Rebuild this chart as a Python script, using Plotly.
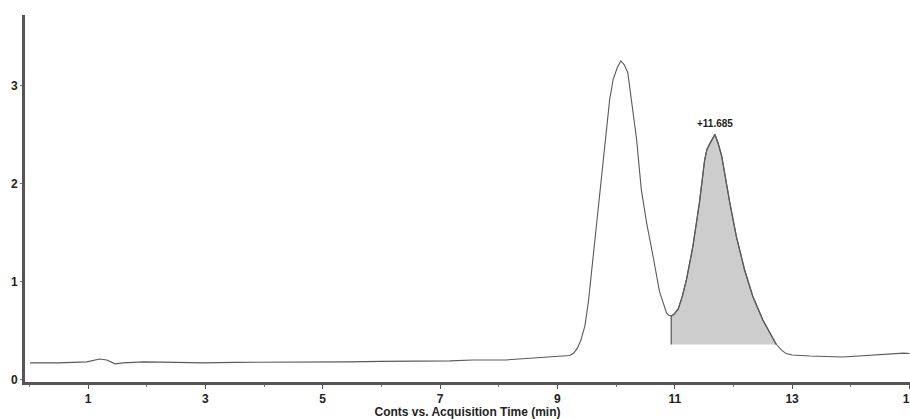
import plotly.graph_objects as go

# Chromatogram trace
time_min = [0.01, 0.5, 0.98, 1.1, 1.2, 1.32, 1.46, 1.6, 1.94, 2.5, 2.96, 3.5, 4.0, 4.61,
            5.45, 6.0, 6.5, 7.17, 7.56, 8.13, 8.59, 9.04, 9.21, 9.28, 9.34, 9.40, 9.47,
            9.53, 9.58, 9.67, 9.75, 9.84, 9.89, 9.95, 10.02, 10.08, 10.14, 10.20, 10.26,
            10.35, 10.43, 10.52, 10.63, 10.74, 10.86, 10.90, 10.94, 10.98, 11.06, 11.13,
            11.20, 11.31, 11.42, 11.51, 11.55, 11.60, 11.64, 11.685, 11.74, 11.80,
            11.94, 12.05, 12.19, 12.33, 12.50, 12.62, 12.73, 12.82, 12.90, 13.0, 13.30,
            13.87, 14.44, 14.9, 15.0]
counts = [0.17, 0.17, 0.18, 0.20, 0.21, 0.20, 0.16, 0.17, 0.18, 0.175, 0.17, 0.175, 0.175, 0.18,
          0.18, 0.185, 0.185, 0.19, 0.20, 0.20, 0.22, 0.235, 0.245, 0.27, 0.32, 0.40, 0.55,
          0.80, 1.09, 1.60, 2.11, 2.62, 2.85, 3.06, 3.18, 3.25, 3.21, 3.13, 2.85,
          2.45, 1.94, 1.60, 1.26, 0.90, 0.68, 0.655, 0.65, 0.66, 0.72, 0.85,
          1.02, 1.36, 1.80, 2.24, 2.35, 2.41, 2.46, 2.50, 2.41, 2.28,
          1.80, 1.46, 1.12, 0.85, 0.61, 0.48, 0.36, 0.30, 0.265, 0.25, 0.24,
          0.23, 0.255, 0.27, 0.265]

# Integrated peak region
integ_start = 10.94
integ_end = 12.73
integ_base = 0.357
peak_label = "+11.685"
peak_time = 11.685
peak_height = 2.50

x_ticks = [1, 3, 5, 7, 9, 11, 13, 15]
y_ticks = [0, 1, 2, 3]

fx = [integ_start] + [t for t in time_min if integ_start <= t <= integ_end] + [integ_end]
fy = [integ_base] + [c for t, c in zip(time_min, counts) if integ_start <= t <= integ_end] + [integ_base]

fig = go.Figure()
fig.add_trace(go.Scatter(x=fx, y=fy, mode="lines", fill="toself", fillcolor="#cdcdcd",
                         line=dict(color="#555555", width=1.2), hoverinfo="skip"))
fig.add_trace(go.Scatter(x=time_min, y=counts, mode="lines",
                         line=dict(color="#5a5a5a", width=1.1)))

fig.add_annotation(x=peak_time, y=peak_height + 0.03, text=peak_label, showarrow=False,
                   yanchor="bottom", font=dict(family="Liberation Sans", size=10, color="#222", weight="bold"))

font = dict(family="Liberation Sans", size=12, color="#222", weight="bold")
fig.update_layout(
    width=910, height=419, margin=dict(l=25, r=0, t=15, b=37, autoexpand=False),
    paper_bgcolor="white", plot_bgcolor="white", showlegend=False,
    xaxis=dict(range=[-0.074, 15.01], tickvals=x_ticks, ticktext=[str(v) for v in x_ticks],
               showgrid=False, zeroline=False, showline=True, linecolor="#555", linewidth=3,
               ticks="outside", ticklen=4, tickwidth=1, tickcolor="#555", tickfont=font,
               ticklabeloverflow="allow", automargin=False,
               minor=dict(dtick=1, tick0=0, ticks="outside", ticklen=2, tickcolor="#777"),
               title=dict(text="Conts vs. Acquisition Time (min)", font=font, standoff=2)),
    yaxis=dict(range=[-0.025, 3.718], tickvals=y_ticks, showgrid=False, zeroline=False,
               showline=True, linecolor="#555", linewidth=3, ticks="outside", ticklen=2,
               tickwidth=1, tickcolor="#777", tickfont=font, automargin=False),
)
fig.write_html("out.html")
